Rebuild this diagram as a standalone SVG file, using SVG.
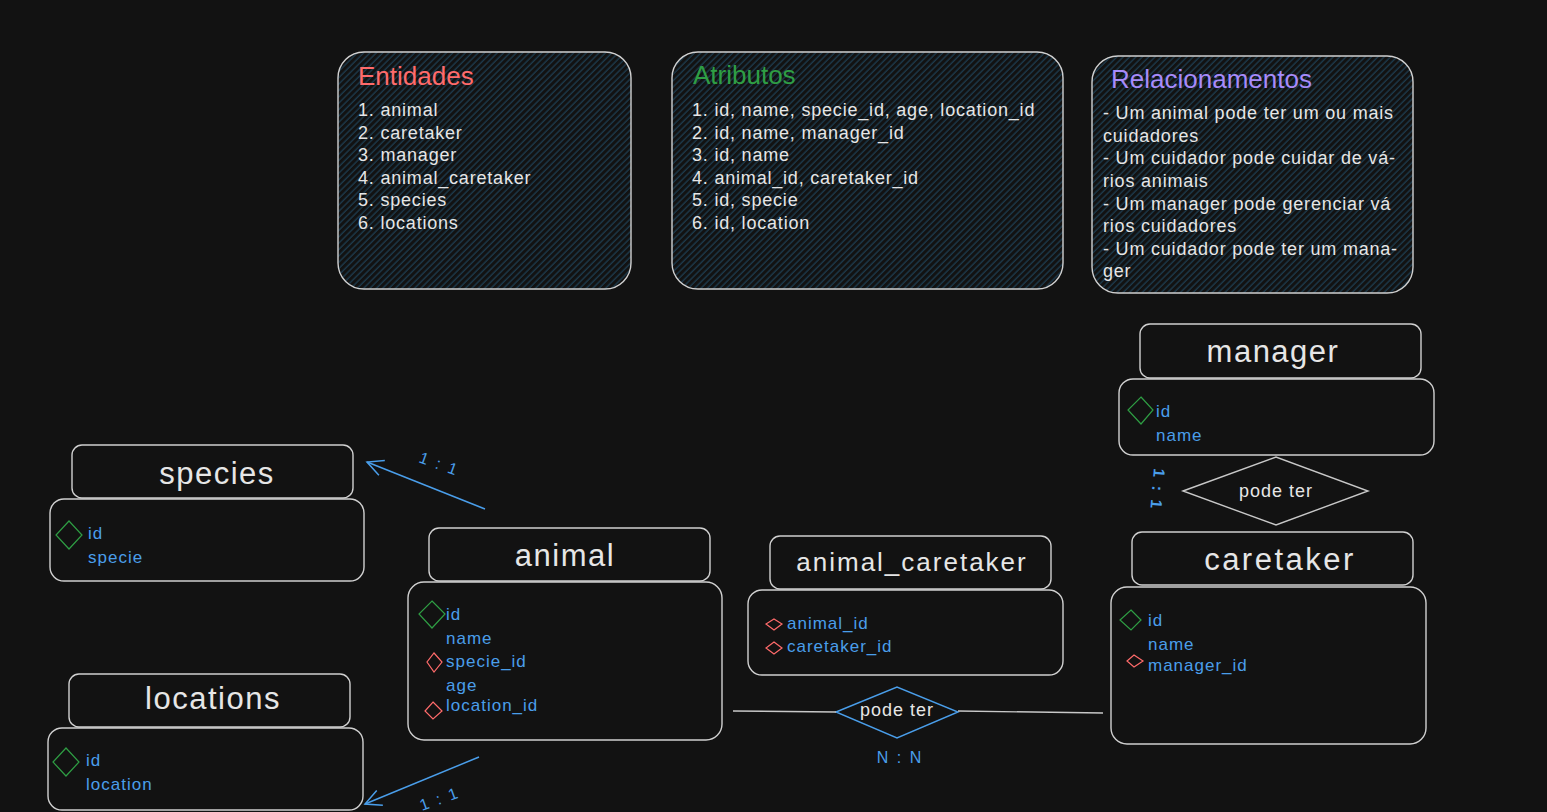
<svg xmlns="http://www.w3.org/2000/svg" width="1547" height="812" viewBox="0 0 1547 812">
<defs>
<pattern id="hach" width="4.5" height="4.5" patternUnits="userSpaceOnUse" patternTransform="rotate(-45)">
<line x1="0" y1="2" x2="4.5" y2="2" stroke="#1d3a4c" stroke-width="1.4"/>
</pattern>
<marker id="arr" viewBox="0 0 20 20" refX="18" refY="10" markerWidth="20" markerHeight="20" markerUnits="userSpaceOnUse" orient="auto">
<path d="M2,2 L18,10 L2,18" fill="none" stroke="#4a9eea" stroke-width="1.5"/>
</marker>
<style>
.box{fill:none;stroke:#d0d0d0;stroke-width:1.4}
.panel{fill:url(#hach);stroke:#d0d0d0;stroke-width:1.4}
.t{font-family:"Liberation Sans",Arial,sans-serif;fill:#e6e6e6}
.title{font-size:31px;text-anchor:middle;letter-spacing:1.5px}
.ptitle{font-size:26px}
.list{font-size:18px;letter-spacing:0.8px}
.attr{font-family:"Liberation Sans",Arial,sans-serif;font-size:17px;letter-spacing:1px;fill:#4a9eea}
.pk{fill:none;stroke:#2f9e44;stroke-width:1.2}
.fk{fill:none;stroke:#ff6b6b;stroke-width:1.2}
.lab{font-family:"Liberation Sans",Arial,sans-serif;font-size:16px;letter-spacing:2px;fill:#4a9eea}
.conn{fill:none;stroke:#4a9eea;stroke-width:1.5}
.line{fill:none;stroke:#c8c8c8;stroke-width:1.4}
.rel{font-size:18px;letter-spacing:1px;text-anchor:middle}
</style>
</defs>
<rect width="1547" height="812" fill="#121212"/>

<g id="entidades">
<rect class="panel" x="338" y="52" width="293" height="237" rx="26"/>
<text class="t ptitle" x="358" y="85" style="fill:#ff6b6b">Entidades</text>
<text class="t list" x="358" y="116">1. animal</text>
<text class="t list" x="358" y="139">2. caretaker</text>
<text class="t list" x="358" y="161">3. manager</text>
<text class="t list" x="358" y="184">4. animal_caretaker</text>
<text class="t list" x="358" y="206">5. species</text>
<text class="t list" x="358" y="229">6. locations</text>
</g>

<g id="atributos">
<rect class="panel" x="672" y="52" width="391" height="237" rx="26"/>
<text class="t ptitle" x="693" y="84" style="fill:#2f9e44">Atributos</text>
<text class="t list" x="692" y="116">1. id, name, specie_id, age, location_id</text>
<text class="t list" x="692" y="139">2. id, name, manager_id</text>
<text class="t list" x="692" y="161">3. id, name</text>
<text class="t list" x="692" y="184">4. animal_id, caretaker_id</text>
<text class="t list" x="692" y="206">5. id, specie</text>
<text class="t list" x="692" y="229">6. id, location</text>
</g>

<g id="relacionamentos">
<rect class="panel" x="1092" y="56" width="321" height="237" rx="26"/>
<text class="t ptitle" x="1111" y="88" style="fill:#a78bfa">Relacionamentos</text>
<text class="t list" x="1103" y="119">- Um animal pode ter um ou mais</text>
<text class="t list" x="1103" y="142">cuidadores</text>
<text class="t list" x="1103" y="164">- Um cuidador pode cuidar de vá-</text>
<text class="t list" x="1103" y="187">rios animais</text>
<text class="t list" x="1103" y="210">- Um manager pode gerenciar vá</text>
<text class="t list" x="1103" y="232">rios cuidadores</text>
<text class="t list" x="1103" y="255">- Um cuidador pode ter um mana-</text>
<text class="t list" x="1103" y="277">ger</text>
</g>

<g id="manager">
<rect class="box" x="1140" y="324" width="281" height="54" rx="10"/>
<text class="t title" x="1273" y="362">manager</text>
<rect class="box" x="1119" y="379" width="315" height="76" rx="14"/>
<path class="pk" d="M1141,397 L1153,410 L1141,424 L1128,410 Z"/>
<text class="attr" x="1156" y="417">id</text>
<text class="attr" x="1156" y="441">name</text>
</g>

<g id="rel-manager">
<path class="line" d="M1183,491 L1276,457 L1368,491 L1276,525 Z"/>
<text class="t rel" x="1276" y="497">pode ter</text>
<text class="lab" x="0" y="0" font-size="20" font-weight="bold" transform="translate(1154,468) rotate(95)">1 : 1</text>
</g>

<g id="species">
<rect class="box" x="72" y="445" width="281" height="53" rx="10"/>
<text class="t title" x="217" y="484">species</text>
<rect class="box" x="50" y="499" width="314" height="82" rx="14"/>
<path class="pk" d="M69,521 L82,535 L69,549 L56,535 Z"/>
<text class="attr" x="88" y="539">id</text>
<text class="attr" x="88" y="563">specie</text>
</g>

<g id="animal">
<rect class="box" x="429" y="528" width="281" height="53" rx="10"/>
<text class="t title" x="565" y="566">animal</text>
<rect class="box" x="408" y="582" width="314" height="158" rx="16"/>
<path class="pk" d="M432,601 L445,614 L432,628 L419,614 Z"/>
<text class="attr" x="446" y="620">id</text>
<text class="attr" x="446" y="644">name</text>
<path class="fk" d="M434,653 L442,662 L434,672 L427,662 Z"/>
<text class="attr" x="446" y="667">specie_id</text>
<text class="attr" x="446" y="691">age</text>
<path class="fk" d="M433,702 L442,711 L433,719 L425,711 Z"/>
<text class="attr" x="446" y="711">location_id</text>
</g>

<g id="animal_caretaker">
<rect class="box" x="770" y="536" width="281" height="53" rx="10"/>
<text class="t title" x="912" y="571" style="font-size:26px;letter-spacing:2px">animal_caretaker</text>
<rect class="box" x="748" y="590" width="315" height="85" rx="14"/>
<path class="fk" d="M774,619 L782,624 L774,630 L766,624 Z"/>
<text class="attr" x="787" y="629">animal_id</text>
<path class="fk" d="M774,642 L782,648 L774,654 L766,648 Z"/>
<text class="attr" x="787" y="652">caretaker_id</text>
</g>

<g id="caretaker">
<rect class="box" x="1132" y="532" width="281" height="53" rx="10"/>
<text class="t title" x="1280" y="570" style="letter-spacing:2.5px">caretaker</text>
<rect class="box" x="1111" y="587" width="315" height="157" rx="16"/>
<path class="pk" d="M1131,610 L1141,620 L1131,630 L1120,620 Z"/>
<text class="attr" x="1148" y="626">id</text>
<text class="attr" x="1148" y="650">name</text>
<path class="fk" d="M1134,655 L1143,661 L1134,667 L1127,661 Z"/>
<text class="attr" x="1148" y="671">manager_id</text>
</g>

<g id="rel-animal-caretaker">
<path d="M836,712 L897,687 L958,712 L897,738 Z" fill="none" stroke="#4a9eea" stroke-width="1.4"/>
<text class="t rel" x="897" y="716">pode ter</text>
<text class="lab" x="900" y="763" text-anchor="middle">N : N</text>
</g>

<g id="locations">
<rect class="box" x="69" y="674" width="281" height="53" rx="10"/>
<text class="t title" x="213" y="709">locations</text>
<rect class="box" x="48" y="728" width="315" height="82" rx="14"/>
<path class="pk" d="M66,748 L79,762 L66,776 L53,762 Z"/>
<text class="attr" x="86" y="766">id</text>
<text class="attr" x="86" y="790">location</text>
</g>

<g id="connectors">
<path class="conn" d="M485,509 L367,462" marker-end="url(#arr)"/>
<text class="lab" x="0" y="0" transform="translate(418,462) rotate(20)">1 : 1</text>
<path class="conn" d="M479,757 L365,804" marker-end="url(#arr)"/>
<text class="lab" x="0" y="0" transform="translate(422,811) rotate(-20)">1 : 1</text>
<path class="line" d="M733,711 L836,712"/>
<path class="line" d="M958,711 L1103,713"/>
</g>
</svg>
